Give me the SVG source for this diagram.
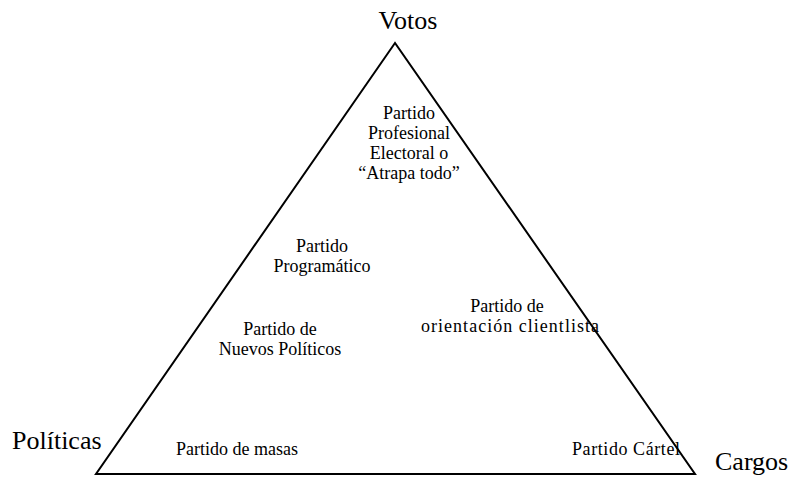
<svg xmlns="http://www.w3.org/2000/svg" width="791" height="478" viewBox="0 0 791 478">
<style>
text{font-family:"Liberation Serif","Times New Roman",serif;fill:#000}
.big{font-size:26px}
.mid{text-anchor:middle}
.lbl{font-size:18px;text-anchor:middle}
.lbs{font-size:18px;text-anchor:start}
.edge{fill:none;stroke:#000;stroke-width:2}
</style>
<rect width="791" height="478" fill="#fff"/>
<g id="connectors">
<polygon class="edge" points="395,43 96,474 695,474"/>
</g>
<g id="votos"><text class="big mid" x="408" y="29">Votos</text></g>
<g id="politicas"><text class="big" x="12" y="449">Políticas</text></g>
<g id="cargos"><text class="big" x="715" y="470">Cargos</text></g>
<g id="atrapa-todo"><text class="lbl" x="409" y="119">Partido<tspan x="409" dy="20">Profesional</tspan><tspan x="409" dy="20">Electoral o</tspan><tspan x="409" dy="20">“Atrapa todo”</tspan></text></g>
<g id="programatico"><text class="lbl" x="322" y="252">Partido<tspan x="322" dy="20">Programático</tspan></text></g>
<g id="clientelista"><text class="lbl" x="507" y="312">Partido de</text><text class="lbl" x="510" y="332" textLength="178" lengthAdjust="spacing">orientación clientlista</text></g>
<g id="nuevos-politicos"><text class="lbl" x="280" y="335">Partido de<tspan x="280" dy="20">Nuevos Políticos</tspan></text></g>
<g id="masas"><text class="lbs" x="176" y="455">Partido de masas</text></g>
<g id="cartel"><text class="lbs" x="572" y="455" textLength="108" lengthAdjust="spacing">Partido Cártel</text></g>
</svg>
